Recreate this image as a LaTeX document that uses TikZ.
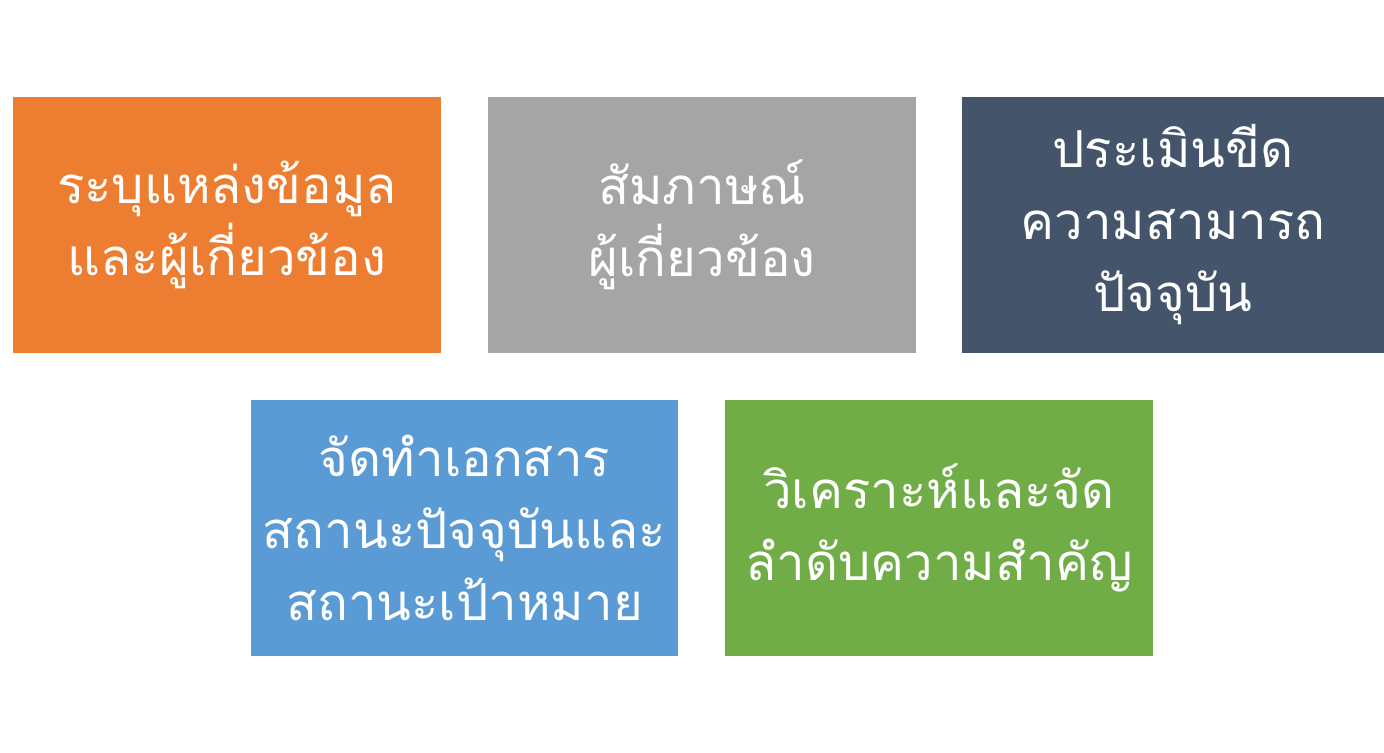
\documentclass[tikz,border=0pt]{standalone}
\usepackage{fontspec}
\newfontfamily\thaifont[Script=Thai]{Loma}
\usetikzlibrary{positioning}

\definecolor{stepOrange}{HTML}{ED7D31}
\definecolor{stepGray}{HTML}{A5A5A5}
\definecolor{stepNavy}{HTML}{44546A}
\definecolor{stepBlue}{HTML}{5B9BD5}
\definecolor{stepGreen}{HTML}{70AD47}

\begin{document}
\begin{tikzpicture}[x=0.02cm, y=-0.02cm,
  stepbox/.style={rectangle, inner sep=0pt, minimum width=8.56cm, minimum height=5.12cm,
                  align=center, text=white,
                  font=\thaifont\fontsize{29}{41}\selectfont}]
  \useasboundingbox[fill=white] (0,0) rectangle (1384,752);
  % top row
  \node[stepbox, fill=stepOrange] (sources) at (227,225) {ระบุแหล่งข้อมูล\\และผู้เกี่ยวข้อง};
  \node[stepbox, fill=stepGray] (interview) at (702,225) {สัมภาษณ์\\ผู้เกี่ยวข้อง};
  \node[stepbox, fill=stepNavy, minimum width=8.44cm] (assess) at (1173,225) {ประเมินขีด\\ความสามารถ\\ปัจจุบัน};
  % bottom row
  \node[stepbox, fill=stepBlue] (document) at (464.5,528) {จัดทำเอกสาร\\สถานะปัจจุบันและ\\สถานะเป้าหมาย};
  \node[stepbox, fill=stepGreen] (analyse) at (939,528) {วิเคราะห์และจัด\\ลำดับความสำคัญ};
\end{tikzpicture}
\end{document}
